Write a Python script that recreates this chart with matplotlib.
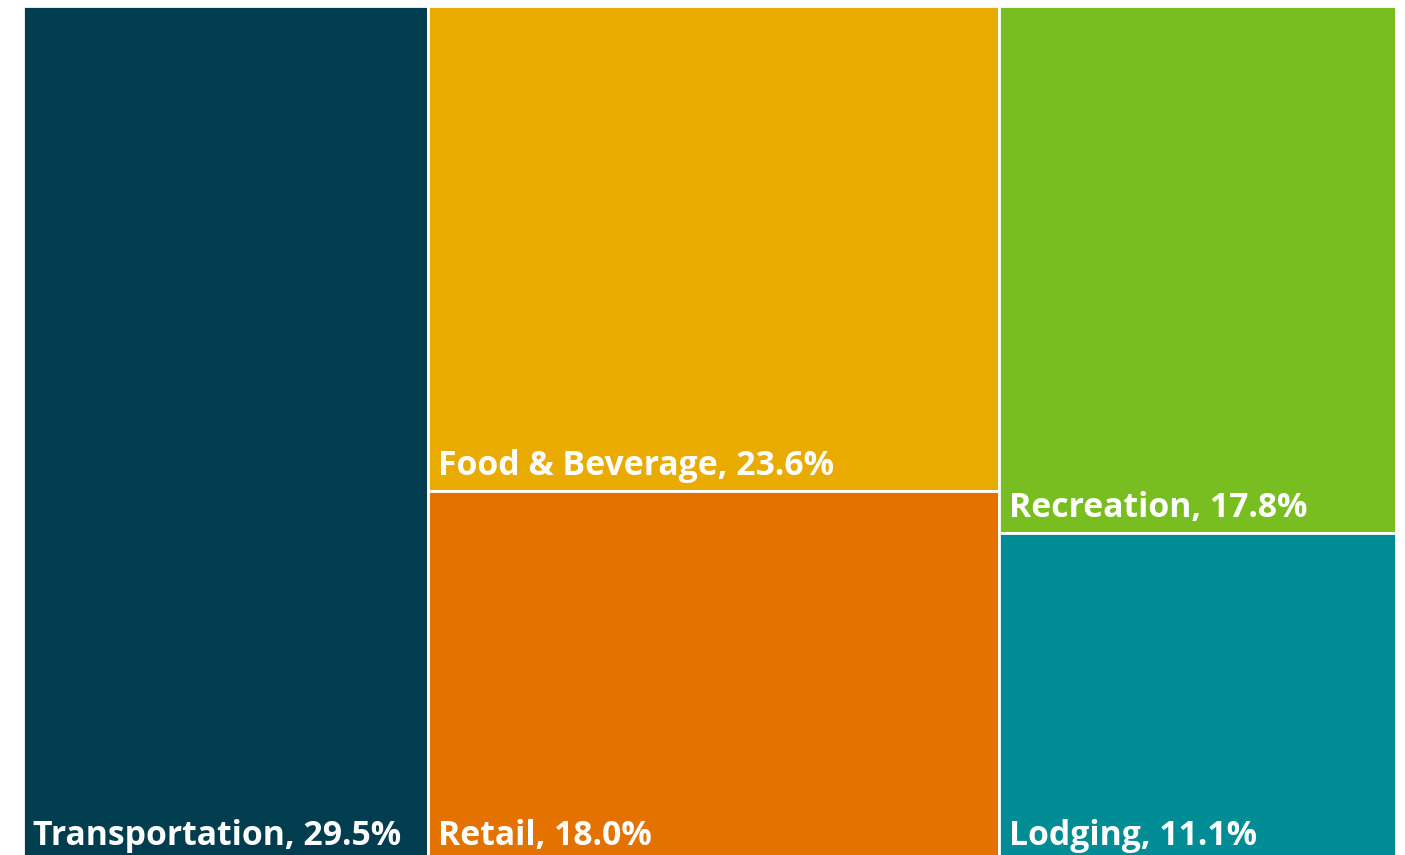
import matplotlib.pyplot as plt
from matplotlib.patches import Rectangle

labels = ["Transportation", "Food & Beverage", "Retail", "Recreation", "Lodging"]
shares = [29.5, 23.6, 18.0, 17.8, 11.1]
colors = ["#003d4f", "#e9ab00", "#e47200", "#78be20", "#008c95"]
# which column of the treemap each category sits in
columns = [[0], [1, 2], [3, 4]]

fig = plt.figure(figsize=(14.05, 8.55), dpi=100)
ax = fig.add_axes([23 / 1405, -6 / 855, 1373 / 1405, 1.0])
total = sum(shares)
ax.set_xlim(0, total)
ax.set_ylim(0, 1)
ax.axis("off")

x = 0
for col in columns:
    w = sum(shares[i] for i in col)
    y = 1.0
    for i in col:
        h = shares[i] / w
        y -= h
        ax.add_patch(Rectangle((x, y), w, h, facecolor=colors[i],
                               edgecolor="white", linewidth=2))
        ax.annotate(f"{labels[i]}, {shares[i]:.1f}%", (x, y),
                    xytext=(10, 16), textcoords="offset pixels",
                    color="white", fontsize=24.3, fontweight="bold",
                    family="Open Sans", ha="left", va="baseline")
    x += w

fig.savefig("out.png", dpi=100)
